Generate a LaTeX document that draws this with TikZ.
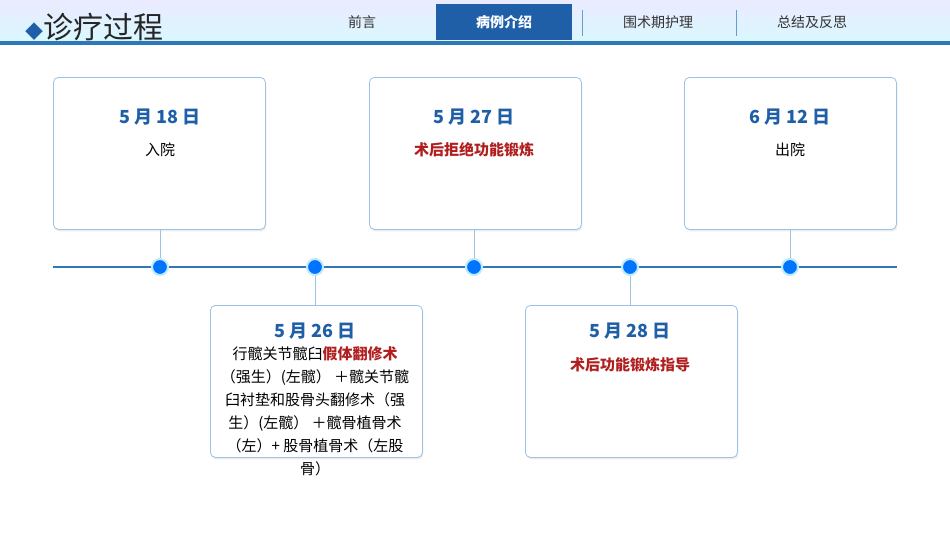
\documentclass[tikz,border=0pt]{standalone}
\usepackage{fontspec}
\setmainfont{Noto Sans CJK SC}
\usetikzlibrary{shadows}
\definecolor{dblue}{HTML}{1F5FA8}
\definecolor{lblue}{HTML}{9CC3E6}
\definecolor{dred}{HTML}{B01E1E}
\definecolor{tline}{HTML}{2F78B8}
\begin{document}
\begin{tikzpicture}[x=1pt,y=-1pt,
 card/.style={draw=lblue,line width=0.8pt,rounded corners=5pt,fill=white,minimum width=212pt,minimum height=152pt,anchor=north west,drop shadow={opacity=0.15,shadow xshift=1pt,shadow yshift=-2pt}},
 date/.style={font=\bfseries\fontsize{18}{20}\selectfont,text=dblue},
 body/.style={font=\fontsize{15}{23}\selectfont,align=center},
 stub/.style={draw=lblue,line width=0.8pt},
 dot/.style={circle,fill=blue!55!cyan,draw=cyan!25,line width=2pt,minimum size=16pt,inner sep=0pt},
 tab/.style={font=\fontsize{14}{16}\selectfont,text=black!80}]
\useasboundingbox (0,0) rectangle (950,535);
\fill[white] (0,0) rectangle (950,535);
\shade[top color=blue!8,bottom color=blue!18!cyan!15] (0,0) rectangle (950,43);
\fill[tline] (0,41) rectangle (950,45);
\node[anchor=west,font=\fontsize{30}{32}\selectfont,text=black!85] (title) at (22,27) {\textcolor{dblue}{\fontsize{18}{20}\selectfont ◆}诊疗过程};
\node[tab] (t1) at (362,22) {前言};
\node[fill=dblue,minimum width=136pt,minimum height=36pt,text=white,font=\bfseries\fontsize{14}{16}\selectfont] (t2) at (504,22) {病例介绍};
\node[tab] (t3) at (658,22) {围术期护理};
\node[tab] (t4) at (812,22) {总结及反思};
\draw[lblue!60!dblue,line width=1pt] (582,10) -- (582,36) (736,10) -- (736,36);
\coordinate (L) at (53,267); \coordinate (R) at (897,267);
\draw[tline,line width=2.5pt] (L) -- (R);
\node[card] (c1) at (53,77) {};
\node[card] (c3) at (369,77) {};
\node[card] (c5) at (684,77) {};
\node[card] (c2) at (210,305) {};
\node[card] (c4) at (525,305) {};
\foreach \n/\x in {d1/160,d2/315,d3/474,d4/630,d5/790}{\node[dot] (\n) at (\x,267) {};}
\draw[stub] (c1.south -| d1) -- (d1.north);
\draw[stub] (c3.south -| d3) -- (d3.north);
\draw[stub] (c5.south -| d5) -- (d5.north);
\draw[stub] (d2.south) -- (c2.north -| d2);
\draw[stub] (d4.south) -- (c4.north -| d4);
\node[date] (a1) at (160,117) {5 月 18 日};
\node[body] (b1) at (160,150) {入院};
\node[date] (a3) at (474,117) {5 月 27 日};
\node[body,text=dred,font=\bfseries\fontsize{15}{23}\selectfont] (b3) at (474,150) {术后拒绝功能锻炼};
\node[date] (a5) at (790,117) {6 月 12 日};
\node[body] (b5) at (790,150) {出院};
\node[date] (a2) at (315,331) {5 月 26 日};
\node[body,anchor=north] (b2) at (315,343) {行髋关节髋臼\textcolor{dred}{\bfseries 假体翻修术}\\（强生）(左髋） ＋髋关节髋\\臼衬垫和股骨头翻修术（强\\生）(左髋） ＋髋骨植骨术\\（左）+ 股骨植骨术（左股\\骨）};
\node[date] (a4) at (630,331) {5 月 28 日};
\node[body,text=dred,font=\bfseries\fontsize{15}{23}\selectfont] (b4) at (630,365) {术后功能锻炼指导};
\end{tikzpicture}
\end{document}
